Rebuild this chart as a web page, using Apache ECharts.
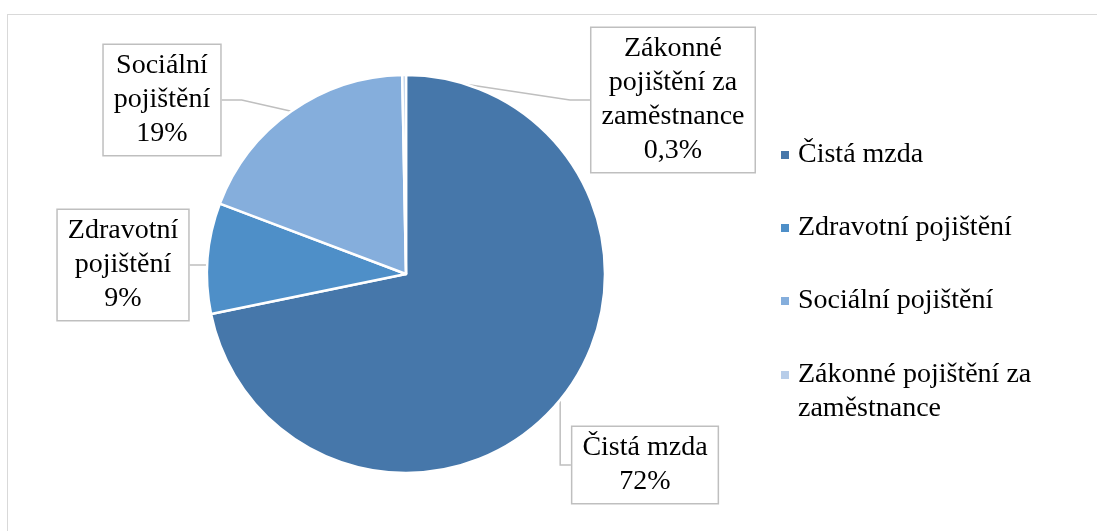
<!DOCTYPE html>
<html>
<head>
<meta charset="utf-8">
<script src="https://cdn.jsdelivr.net/npm/echarts@6/dist/echarts.min.js"></script>
<style>
    html, body {margin: 0; padding: 0; background: #fff;}
    #frame {position: absolute; left: 7px; top: 14px; width: 1100px; height: 540px; border: 1px solid #d9d9d9; box-sizing: border-box;}
    #chart {position: absolute; left: 0; top: 0; width: 1097px; height: 531px;}
</style>
</head>
<body>
<div id="frame"></div>
<div id="chart"></div>
<script>
    const categories = ['Čistá mzda', 'Zdravotní pojištění', 'Sociální pojištění', 'Zákonné pojištění za zaměstnance'];
    const values = [72, 9, 19, 0.3];
    const labelNames = ['Čistá mzda', 'Zdravotní\npojištění', 'Sociální\npojištění', 'Zákonné\npojištění za\nzaměstnance'];
    // leading empty line keeps the icon next to the first text line
    const legendNames = ['Čistá mzda', 'Zdravotní pojištění', 'Sociální pojištění', '\nZákonné pojištění za\nzaměstnance'];
    const colors = ['#4677AA', '#4E8FC8', '#85AEDC', '#B7CDE9'];

    // where the callout boxes sit
    const labelPos = [[645, 465], [123, 265], [162, 100], [673, 100]];

    const font = '"Liberation Serif", "Times New Roman", serif';

    let myChart = echarts.init(document.getElementById('chart'));

    const legendBase = {
        orient: 'vertical',
        left: 779,
        padding: 0,
        itemWidth: 10,
        itemHeight: 10,
        itemGap: 39,
        icon: 'rect',
        formatter: function (name) {
            return legendNames[categories.indexOf(name)];
        },
        textStyle: {
            fontFamily: font,
            fontSize: 28,
            lineHeight: 34,
            color: '#000',
            padding: [0, 0, 0, 3],
        },
    };

    let option = {
        backgroundColor: 'transparent',
        animation: false,
        color: colors,
        legend: [
            Object.assign({}, legendBase, {top: 138, data: categories.slice(0, 3)}),
            Object.assign({}, legendBase, {top: 324, data: categories.slice(3)}),
        ],
        series: [
            {
                type: 'pie',
                center: [406, 274],
                radius: [0, 199],
                startAngle: 90,
                clockwise: true,
                itemStyle: {
                    borderColor: '#fff',
                    borderWidth: 2.5,
                },
                label: {
                    show: true,
                    position: 'outside',
                    fontFamily: font,
                    fontSize: 28,
                    lineHeight: 34,
                    color: '#000',
                    align: 'center',
                    backgroundColor: '#fff',
                    borderColor: '#bfbfbf',
                    borderWidth: 1.5,
                    padding: [4, 10, 4, 10],
                    formatter: function (params) {
                        const v = String(params.value).replace('.', ',');
                        return labelNames[params.dataIndex] + '\n' + v + '%';
                    },
                },
                labelLine: {
                    show: true,
                    length: 20,
                    length2: 20,
                    lineStyle: {
                        color: '#bfbfbf',
                        width: 1.5,
                    },
                },
                labelLayout: function (params) {
                    const p = labelPos[params.dataIndex];
                    return {
                        x: p[0],
                        y: p[1],
                        align: 'center',
                        verticalAlign: 'middle',
                    };
                },
                data: categories.map(function (c, i) {
                    return {name: c, value: values[i]};
                }),
            },
        ],
    };

    option && myChart.setOption(option);
</script>
</body>
</html>
